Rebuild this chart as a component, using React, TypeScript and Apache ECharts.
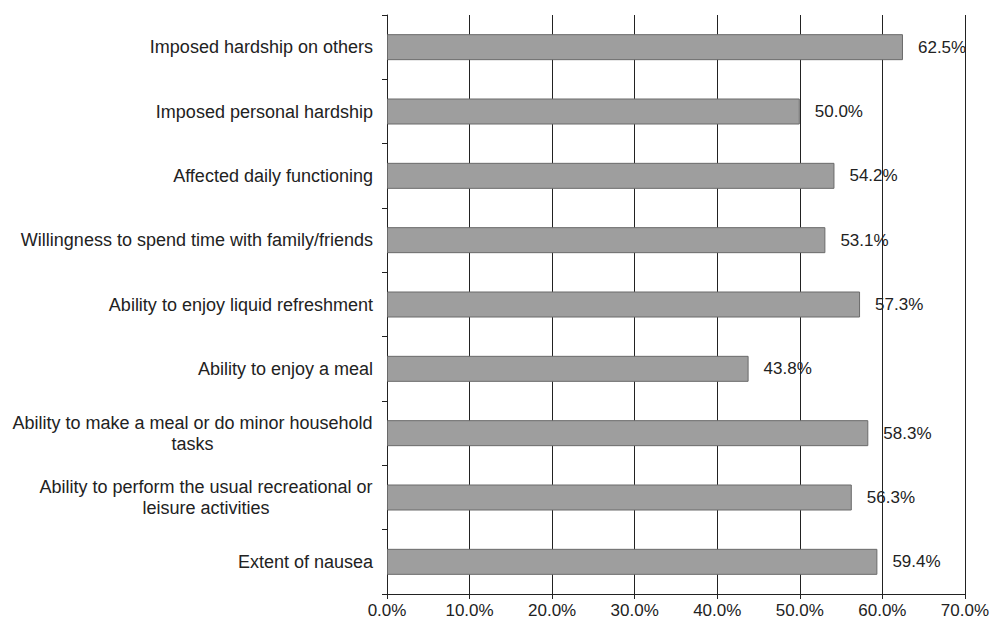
import React, { useEffect, useRef } from "react";
import * as echarts from "echarts";

const categories = [
  "Imposed hardship on others",
  "Imposed personal hardship",
  "Affected daily functioning",
  "Willingness to spend time with family/friends",
  "Ability to enjoy liquid refreshment",
  "Ability to enjoy a meal",
  "Ability to make a meal or do minor household\ntasks",
  "Ability to perform the usual recreational or\nleisure activities",
  "Extent of nausea",
];
const values = [62.5, 50.0, 54.2, 53.1, 57.3, 43.8, 58.3, 56.3, 59.4];
const xTicks = [0, 10, 20, 30, 40, 50, 60, 70];

const FONT = "'Liberation Sans', Arial, sans-serif";
const CAT_SIZE = 18;
const NUM_SIZE = 17;

function measure(text: string): number {
  const c = document.createElement("canvas");
  const ctx = c.getContext("2d")!;
  ctx.font = `${CAT_SIZE}px 'Liberation Sans', Arial, sans-serif`;
  return ctx.measureText(text).width;
}

export default function App() {
  const ref = useRef<HTMLDivElement>(null);
  useEffect(() => {
    if (!ref.current) return;
    const chart = echarts.init(ref.current, undefined, { renderer: "svg" });
    const rich: Record<string, any> = {};
    categories.forEach((cat, i) => {
      if (cat.includes("\n")) {
        const w = Math.max(...cat.split("\n").map(measure));
        rich["c" + i] = {
          width: Math.ceil(w),
          align: "center",
          fontSize: CAT_SIZE,
          fontFamily: FONT,
          color: "#222",
          lineHeight: 21,
        };
      }
    });
    chart.setOption({
      animation: false,
      backgroundColor: "#ffffff",
      grid: { left: 387, right: 27, top: 15, bottom: 31, containLabel: false },
      xAxis: {
        type: "value",
        min: xTicks[0],
        max: xTicks[xTicks.length - 1],
        interval: 10,
        axisLine: { show: true, lineStyle: { color: "#222", width: 1 } },
        axisTick: { show: true, length: 5, lineStyle: { color: "#222" } },
        splitLine: { show: true, lineStyle: { color: "#222", width: 1 } },
        axisLabel: {
          formatter: (v: number) => v.toFixed(1) + "%",
          color: "#222",
          fontSize: NUM_SIZE,
          fontFamily: FONT,
          margin: 8,
        },
      },
      yAxis: {
        type: "category",
        data: categories,
        inverse: true,
        axisLine: { show: true, lineStyle: { color: "#222", width: 1 } },
        axisTick: { show: true, length: 5, lineStyle: { color: "#222" } },
        axisLabel: {
          color: "#222",
          fontSize: CAT_SIZE,
          fontFamily: FONT,
          margin: 14,
          lineHeight: 21,
          align: "right",
          rich,
          formatter: (v: string, i: number) => {
            if (v.includes("\n")) {
              return v
                .split("\n")
                .map((l) => `{c${i}|${l}}`)
                .join("\n");
            }
            return v;
          },
        },
      },
      series: [
        {
          type: "bar",
          data: values,
          barWidth: 26,
          itemStyle: { color: "#9e9e9e", borderColor: "#6a6a6a", borderWidth: 1 },
          label: {
            show: true,
            position: "right",
            distance: 15,
            formatter: (p: any) => p.value.toFixed(1) + "%",
            color: "#222",
            fontSize: NUM_SIZE,
            fontFamily: FONT,
          },
        },
      ],
    });
    return () => chart.dispose();
  }, []);
  return <div ref={ref} style={{ width: 992, height: 625, position: "absolute", left: 0, top: 0 }} />;
}
